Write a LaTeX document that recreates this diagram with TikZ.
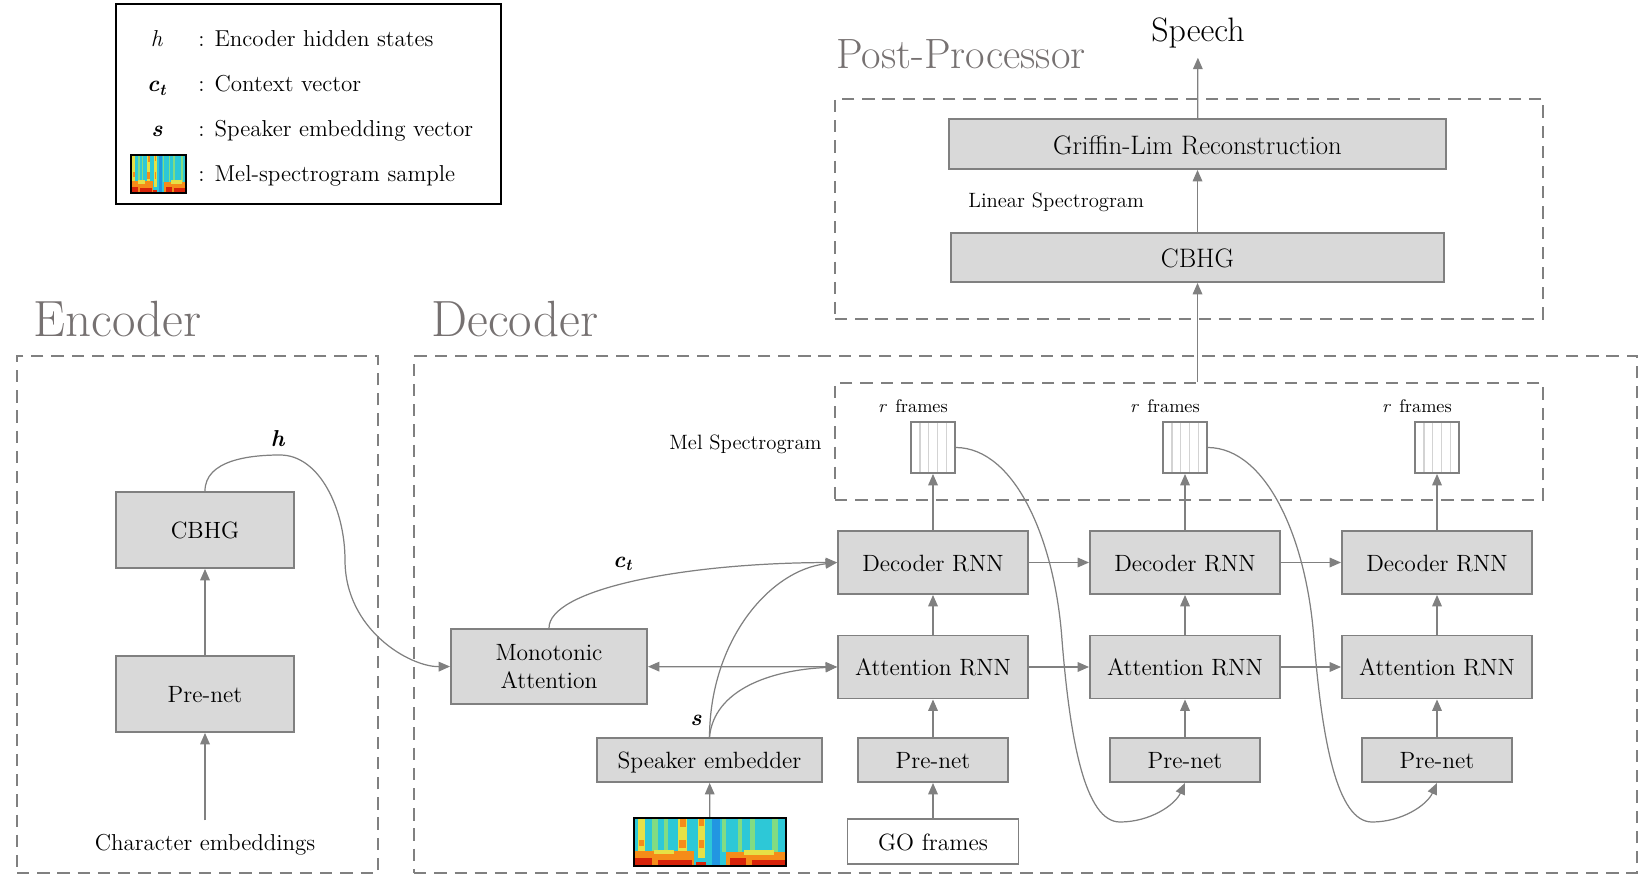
\documentclass[tikz,border=0pt]{standalone}
\usepackage{fontspec}
\usetikzlibrary{arrows.meta,calc}

\definecolor{boxgray}{HTML}{D9D9D9}
\definecolor{linegray}{HTML}{808080}
\definecolor{titlegray}{HTML}{767171}
\definecolor{stripgray}{HTML}{D3D3D3}
\definecolor{spcyan}{RGB}{45,200,215}
\definecolor{spgreen}{RGB}{130,220,130}
\definecolor{spyellow}{RGB}{230,225,70}
\definecolor{sporange}{RGB}{245,140,25}
\definecolor{spred}{RGB}{215,35,10}

\tikzset{
  blockbase/.style={draw=linegray, fill=boxgray, line width=1.1pt, inner sep=0pt, font=\fontsize{13.4}{16}\selectfont},
  block/.style={blockbase, text height=12pt, text depth=2pt},
  bigblock/.style={blockbase, font=\fontsize{15.2}{18}\selectfont, text height=13.5pt, text depth=2pt},
  region/.style={draw=linegray, line width=1.1pt, dash pattern=on 7pt off 4.5pt, inner sep=0pt},
  framebox/.style={draw=linegray, fill=white, line width=1.1pt, inner sep=0pt, minimum width=0.88cm, minimum height=1.02cm,
    path picture={\foreach \k in {1,...,4}
      \draw[stripgray, line width=0.8pt] ($(path picture bounding box.north west)!\k/5!(path picture bounding box.north east)$) -- ($(path picture bounding box.south west)!\k/5!(path picture bounding box.south east)$);}},
  arr/.style={draw=linegray, line width=0.7pt, -{Triangle[length=6.5pt,width=5.5pt]}},
  arrboth/.style={draw=linegray, line width=0.7pt, {Triangle[length=6.5pt,width=5.5pt]}-{Triangle[length=6.5pt,width=5.5pt]}},
  lbl/.style={inner sep=0pt, font=\fontsize{13.1}{16}\selectfont},
  small/.style={inner sep=0pt, font=\fontsize{11.8}{14}\selectfont},
  framelbl/.style={inner sep=0pt, font=\fontsize{10.4}{12}\selectfont},
  title/.style={inner sep=0pt, text=titlegray, font=\fontsize{29}{34}\selectfont},
  specframe/.style={draw=black, line width=1.4pt, inner sep=0pt},
  pics/melspec/.style={code={
    \fill[spcyan] (0,0) rectangle (152,48);
    \fill[spgreen] (18,0) rectangle (24,38);
    \fill[spgreen] (30,0) rectangle (34,36);
    \fill[spgreen] (88,0) rectangle (92,34);
    \fill[spgreen] (104,0) rectangle (108,36);
    \fill[spgreen] (116,0) rectangle (121,34);
    \fill[spgreen] (138,0) rectangle (144,36);
    \fill[spyellow] (4,0) rectangle (11,38);
    \fill[spyellow] (44,0) rectangle (53,40);
    \fill[spyellow] (64,0) rectangle (71,40);
    \fill[sporange] (5,22) rectangle (10,28);
    \fill[sporange] (46,0) rectangle (52,9);
    \fill[sporange] (45,22) rectangle (52,30);
    \fill[sporange] (65,0) rectangle (70,8);
    \fill[sporange] (65,22) rectangle (70,30);
    \fill[spcyan!75!blue] (78,0) rectangle (86,48);
    \fill[sporange] (0,33) rectangle (60,48);
    \fill[sporange] (92,34) rectangle (152,48);
    \fill[spyellow] (20,32) rectangle (40,36);
    \fill[spyellow] (110,32) rectangle (140,37);
    \fill[spred] (0,40) rectangle (18,48);
    \fill[spred] (24,42) rectangle (58,48);
    \fill[spred] (62,44) rectangle (72,48);
    \fill[spred] (96,40) rectangle (112,48);
    \fill[spred] (118,42) rectangle (152,48);
  }}
}

\begin{document}
\begin{tikzpicture}[x=0.02cm, y=-0.02cm]
\useasboundingbox (0,0) rectangle (1639,874);

% legend
\draw[black, line width=1.2pt] (116,4) rectangle (501,204);
\node[lbl, anchor=base] (symh) at (157,47) {\textit{h}};
\node[lbl, anchor=base west] (legh) at (198,47) {: Encoder hidden states};
\node[lbl, anchor=base] (symc) at (157,92) {\textbf{\textit{c}}\textsubscript{\textbf{\textit{t}}}};
\node[lbl, anchor=base west] (legc) at (198,92) {: Context vector};
\node[lbl, anchor=base] (syms) at (157,137) {\textbf{\textit{s}}};
\node[lbl, anchor=base west] (legs) at (198,137) {: Speaker embedding vector};
\pic[xscale=0.362, yscale=0.792] at (131,155) {melspec};
\node[specframe, minimum width=1.1cm, minimum height=0.76cm] (legspec) at (158.5,174) {};
\node[lbl, anchor=base west] (legm) at (198,182) {: Mel-spectrogram sample};

% regions
\node[title, anchor=base west] (enctitle) at (33,337) {Encoder};
\node[title, anchor=base west] (dectitle) at (431,337) {Decoder};
\node[title, anchor=base west, font=\fontsize{24.1}{28}\selectfont] (posttitle) at (836,69) {Post-Processor};
\node[region, minimum width=7.22cm, minimum height=10.34cm] (encregion) at (197.5,614.5) {};
\node[region, minimum width=24.46cm, minimum height=10.34cm] (decregion) at (1025.5,614.5) {};
\node[region, minimum width=14.16cm, minimum height=2.34cm] (melregion) at (1189,441.5) {};
\node[region, minimum width=14.16cm, minimum height=4.4cm] (postregion) at (1189,209) {};

% encoder
\node[block, minimum width=3.56cm, minimum height=1.52cm] (enccbhg) at (205,530) {CBHG};
\node[block, minimum width=3.56cm, minimum height=1.52cm] (encpre) at (205,694) {Pre-net};
\node[lbl, anchor=base, inner ysep=7.4pt] (charemb) at (205,850) {Character embeddings};
\node[lbl, anchor=base] (hlabel) at (278,447) {\textbf{\textit{h}}};

% decoder
\node[blockbase, align=center, minimum width=3.92cm, minimum height=1.5cm] (mon) at (549,666.5) {Monotonic\\Attention};
\node[block, minimum width=4.5cm, minimum height=0.88cm] (spk) at (709.5,760) {Speaker embedder};
\pic at (634,818) {melspec};
\node[specframe, minimum width=3.04cm, minimum height=0.96cm] (spec) at (710,842) {};
\node[lbl, anchor=base] (ctlabel) at (623,567) {\textbf{\textit{c}}\textsubscript{\textbf{\textit{t}}}};
\node[lbl, anchor=base] (slabel) at (696,725) {\textbf{\textit{s}}};
\node[small, anchor=base east] (mellabel) at (822,450) {Mel Spectrogram};

\node[block, minimum width=3.8cm, minimum height=1.26cm] (dec1) at (933,562.5) {Decoder RNN};
\node[block, minimum width=3.8cm, minimum height=1.26cm] (att1) at (933,667) {Attention RNN};
\node[block, minimum width=3cm, minimum height=0.88cm] (pre1) at (933,760) {Pre-net};
\node[block, fill=white, minimum width=3.42cm, minimum height=0.9cm] (go) at (933,841.5) {GO frames};
\node[framebox] (fr1) at (933,447.5) {};
\node[framelbl, anchor=base] (r1) at (913,413) {\textit{r}\hspace{0.45em}frames};

\node[block, minimum width=3.8cm, minimum height=1.26cm] (dec2) at (1185,562.5) {Decoder RNN};
\node[block, minimum width=3.8cm, minimum height=1.26cm] (att2) at (1185,667) {Attention RNN};
\node[block, minimum width=3cm, minimum height=0.88cm] (pre2) at (1185,760) {Pre-net};
\node[framebox] (fr2) at (1185,447.5) {};
\node[framelbl, anchor=base] (r2) at (1165,413) {\textit{r}\hspace{0.45em}frames};

\node[block, minimum width=3.8cm, minimum height=1.26cm] (dec3) at (1437,562.5) {Decoder RNN};
\node[block, minimum width=3.8cm, minimum height=1.26cm] (att3) at (1437,667) {Attention RNN};
\node[block, minimum width=3cm, minimum height=0.88cm] (pre3) at (1437,760) {Pre-net};
\node[framebox] (fr3) at (1437,447.5) {};
\node[framelbl, anchor=base] (r3) at (1417,413) {\textit{r}\hspace{0.45em}frames};

% post-processor
\node[bigblock, minimum width=9.94cm, minimum height=1cm] (griffin) at (1197.5,144) {Griffin-Lim Reconstruction};
\node[bigblock, minimum width=9.86cm, minimum height=0.98cm] (postcbhg) at (1197.5,257.5) {CBHG};
\node[small, anchor=base west] (linspec) at (968,208) {Linear Spectrogram};
\node[anchor=base, inner sep=5pt, font=\fontsize{19.3}{23}\selectfont] (speech) at (1198,42) {Speech};

% connectors
\draw[arr] (charemb) -- (encpre);
\draw[arr] (encpre) -- (enccbhg);
\coordinate (hpeak) at (280,455);
\coordinate (hmid) at (345,560);
\draw[arr] (enccbhg.north) .. controls (205,460) and (250,455) .. (hpeak) .. controls (320,455) and (345,510) .. (hmid) .. controls (345,630) and (410,667) .. (mon.west);
\draw[arr] (mon.north) .. controls (549,590) and (680,563) .. (dec1.west);
\draw[arr] (spk.north) .. controls (710,640) and (770,570) .. (dec1.west);
\draw[arr] (spk.north) .. controls (714,690) and (770,670) .. (att1.west);
\draw[arrboth] (mon) -- (att1);
\draw[arr] (spec) -- (spk);

\draw[arr] (go) -- (pre1);
\draw[arr] (pre1) -- (att1);
\draw[arr] (att1) -- (dec1);
\draw[arr] (dec1) -- (fr1);
\draw[arr] (pre2) -- (att2);
\draw[arr] (att2) -- (dec2);
\draw[arr] (dec2) -- (fr2);
\draw[arr] (pre3) -- (att3);
\draw[arr] (att3) -- (dec3);
\draw[arr] (dec3) -- (fr3);
\draw[arr] (dec1) -- (dec2);
\draw[arr] (dec2) -- (dec3);
\draw[arr] (att1) -- (att2);
\draw[arr] (att2) -- (att3);

\draw[arr] (fr1.east) .. controls (1015,448) and (1055,540) .. (1062,640) .. controls (1070,740) and (1085,822) .. (1120,822) .. controls (1150,822) and (1175,805) .. (pre2.south);
\draw[arr] (fr2.east) .. controls (1267,448) and (1307,540) .. (1314,640) .. controls (1322,740) and (1337,822) .. (1372,822) .. controls (1402,822) and (1427,805) .. (pre3.south);

\draw[arr] (melregion.north -| postcbhg) -- (postcbhg);
\draw[arr] (postcbhg) -- (griffin);
\draw[arr] (griffin) -- (speech);
\end{tikzpicture}
\end{document}
